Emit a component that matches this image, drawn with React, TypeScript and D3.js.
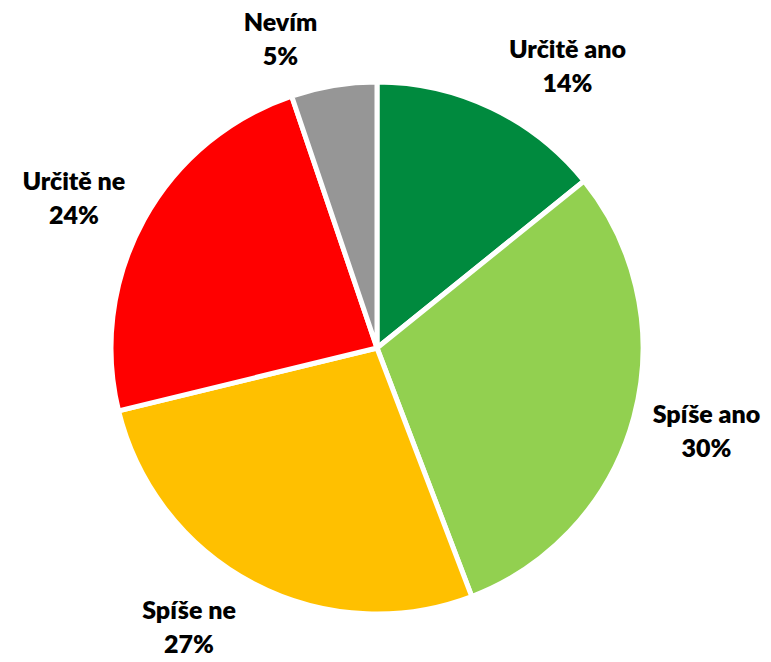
import React from "react";
import * as d3 from "d3";

const categories = ["Určitě ano", "Spíše ano", "Spíše ne", "Určitě ne", "Nevím"];
const values = [14.2, 30.0, 27.0, 23.6, 5.2];
const colors = ["#008A3E", "#92D050", "#FFC000", "#FF0000", "#969696"];

const W = 771;
const H = 662;
const FS = 25;
const FW = 800;
const FONT = `${FW} ${FS}px Lato`;

function measure(text: string): number {
  if (typeof document === "undefined") return text.length * 12;
  const c = document.createElement("canvas");
  const ctx = c.getContext("2d");
  if (!ctx) return text.length * 12;
  ctx.font = FONT;
  return ctx.measureText(text).width;
}

export default function App() {
  const cx = 377;
  const cy = 348;
  const r = 266;
  const data = categories.map((c, i) => ({ c, v: values[i], col: colors[i] }));
  const pie = d3.pie<any>().value((d) => d.v).sort(null);
  const arcs = pie(data);
  const arc = d3.arc<any>().innerRadius(0).outerRadius(r);

  return (
    <svg width={W} height={H} style={{ position: "absolute", left: 0, top: 0 }}>
      <rect width={W} height={H} fill="#fff" />
      <g transform={`translate(${cx},${cy})`}>
        {arcs.map((a, i) => (
          <path key={i} d={arc(a) || ""} fill={a.data.col} stroke="#fff" strokeWidth={5} strokeLinejoin="round" />
        ))}
        {arcs.map((a, i) => {
          const mid = (a.startAngle + a.endAngle) / 2;
          const s = Math.sin(mid);
          const c = Math.cos(mid);
          const l1 = a.data.c;
          const l2 = `${Math.round(a.data.v)}%`;
          const w = Math.max(measure(l1), measure(l2));
          const x = (r + 3) * s + Math.sign(s) * (w / 2 + 16);
          const y = -(r + 48) * c;
          return (
            <g key={"l" + i} fontFamily="Lato" fontWeight={FW} fontSize={FS} fill="#000" textAnchor="middle">
              <text x={x} y={y - 17} dominantBaseline="central">{l1}</text>
              <text x={x} y={y + 17} dominantBaseline="central">{l2}</text>
            </g>
          );
        })}
      </g>
    </svg>
  );
}
